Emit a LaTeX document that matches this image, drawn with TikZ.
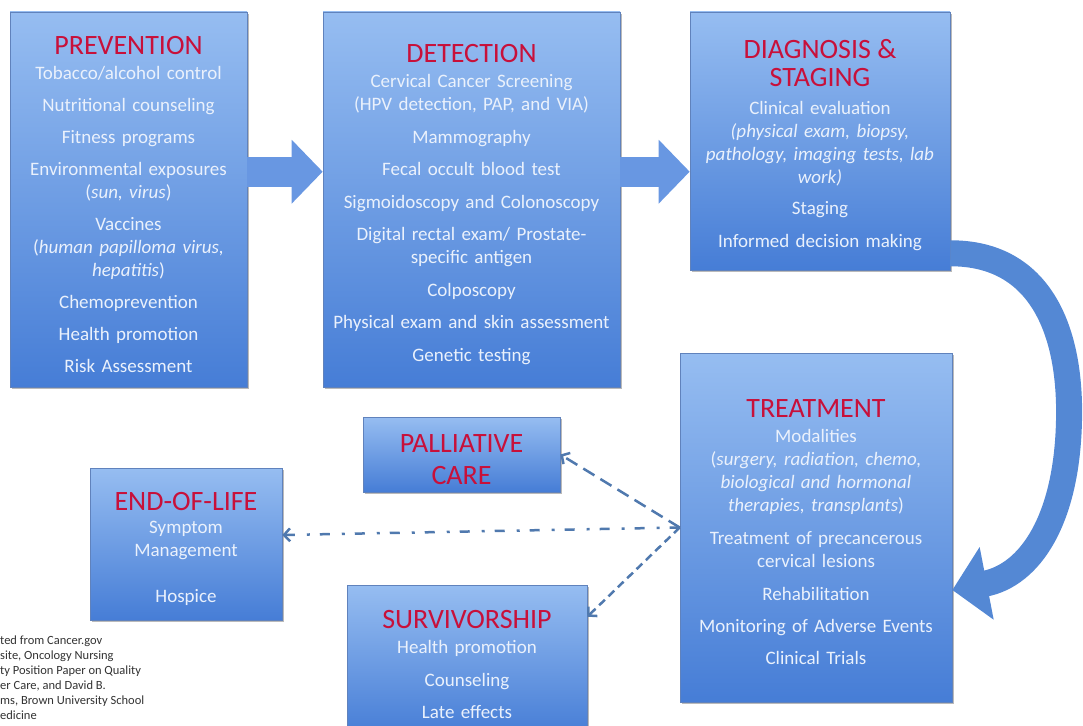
\documentclass[tikz,border=0pt]{standalone}
\usepackage{fontspec}
\setmainfont{Carlito}
\usepackage{tikz}
\usetikzlibrary{arrows.meta}
\usetikzlibrary{shadows}

\definecolor{boxtop}{RGB}{150,189,241}
\definecolor{boxbot}{RGB}{70,125,214}
\definecolor{boxline}{RGB}{96,130,188}
\definecolor{titlered}{RGB}{200,16,58}
\definecolor{bodytxt}{RGB}{234,241,252}
\definecolor{flowblue}{RGB}{104,151,226}
\definecolor{bendblue}{RGB}{84,136,212}
\definecolor{linkblue}{RGB}{80,121,174}
\definecolor{srcgray}{RGB}{50,50,50}

\newcommand{\ttl}[1]{{\fontsize{28}{28}\selectfont\color{titlered}#1}}
\newcommand{\hd}{\rule{0pt}{28pt}}

\begin{document}
\begin{tikzpicture}[x=1pt, y=-1pt, >={Straight Barb[length=6pt,width=13pt]},
  box/.style={draw=boxline, line width=0.6pt, top color=boxtop, bottom color=boxbot,
    drop shadow={shadow xshift=1.5pt, shadow yshift=-2pt, fill=black!60, opacity=0.45},
    align=center, inner xsep=4pt, inner ysep=0pt, text=bodytxt,
    font=\fontsize{19}{23}\selectfont},
  flow/.style={draw=flowblue, line width=30pt, -{Triangle[length=31pt,width=62pt]}},
  loopflow/.style={draw=bendblue, line width=26pt, -{Triangle[length=35pt,width=72pt]}},
  link/.style={draw=linkblue, line width=2.5pt, ->}]

\useasboundingbox (0,0) rectangle (1083,725);
\clip (0,0) rectangle (1083,725);

% Define nodes
\node (prev) [box, text width=229pt, minimum height=375pt] at (128.5,199.5) {%
  \hd\ttl{PREVENTION}\\[2pt]
  Tobacco/alcohol control\\[9pt]
  Nutritional counseling\\[9pt]
  Fitness programs\\[9pt]
  Environmental exposures\\
  (\textit{sun, virus})\\[9pt]
  Vaccines\\
  (\textit{human papilloma virus,}\\
  \textit{hepatitis})\\[9pt]
  Chemoprevention\\[9pt]
  Health promotion\\[9pt]
  Risk Assessment};

\node (det) [box, text width=289pt, minimum height=375pt] at (471.5,199.5) {%
  \hd\ttl{DETECTION}\\[2pt]
  Cervical Cancer Screening\\
  (HPV detection, PAP, and VIA)\\[10pt]
  Mammography\\[9pt]
  Fecal occult blood test\\[10pt]
  Sigmoidoscopy and Colonoscopy\\[9pt]
  Digital rectal exam/ Prostate-\\
  specific antigen\\[10pt]
  Colposcopy\\[9pt]
  Physical exam and skin assessment\\[10pt]
  Genetic testing};

\node (diag) [box, text width=252pt, minimum height=258pt] at (820,141) {%
  \hd\ttl{DIAGNOSIS \&}\\[5pt]
  \ttl{STAGING}\\[5pt]
  Clinical evaluation\\
  \textit{(physical exam, biopsy,}\\
  \textit{pathology, imaging tests, lab}\\
  \textit{work)}\\[8pt]
  Staging\\[10pt]
  Informed decision making};

\node (treat) [box, text width=264pt, minimum height=349pt] at (816,527.5) {%
  \hd\ttl{TREATMENT}\\[2pt]
  Modalities\\
  (\textit{surgery, radiation, chemo,}\\
  \textit{biological and hormonal}\\
  \textit{therapies, transplants})\\[10pt]
  Treatment of precancerous\\
  cervical lesions\\[10pt]
  Rehabilitation\\[9pt]
  Monitoring of Adverse Events\\[9pt]
  Clinical Trials};

\node (pall) [box, text width=189pt, minimum height=75pt] at (461.5,454.5) {%
  \hd\ttl{PALLIATIVE}\\[9pt]
  \ttl{CARE}};

\node (eol) [box, text width=184pt, minimum height=152pt] at (186,544) {%
  \hd\ttl{END-OF-LIFE}\\
  Symptom\\
  Management\\[23pt]
  Hospice};

\node (surv) [box, text width=232pt, minimum height=150pt] at (467,660) {%
  \hd\ttl{SURVIVORSHIP}\\[2pt]
  Health promotion\\[10pt]
  Counseling\\[9pt]
  Late effects};

\node (src) [anchor=north west, inner sep=0pt, align=left, text=srcgray,
  font=\fontsize{12.5}{15}\selectfont] at (0,636) {%
  ted from Cancer.gov\\
  site, Oncology Nursing\\
  ty Position Paper on Quality\\
  er Care, and David B.\\
  ms, Brown University School\\
  edicine};

% Draw the main flow
\draw[flow] ([yshift=-160pt]prev.north east) -- ([yshift=-160pt]det.north west);
\draw[flow] ([yshift=-160pt]det.north east) -- ([yshift=-160pt]diag.north west);
\draw[loopflow] ([yshift=17pt]diag.south east) .. controls (1040,253) and (1071,330) .. (1069,420)
  .. controls (1067,520) and (1030,575) .. ([yshift=-62.5pt]treat.east);

% Draw the links after treatment
\draw[link, dash pattern=on 13pt off 7pt] (treat.west) -- (pall.east);
\draw[link, dash pattern=on 10pt off 10pt on 3pt off 12pt] (treat.west) -- ([yshift=9pt]eol.east);
\draw[link, dash pattern=on 8pt off 5pt] (treat.west) -- ([yshift=-32pt]surv.north east);

\end{tikzpicture}
\end{document}
